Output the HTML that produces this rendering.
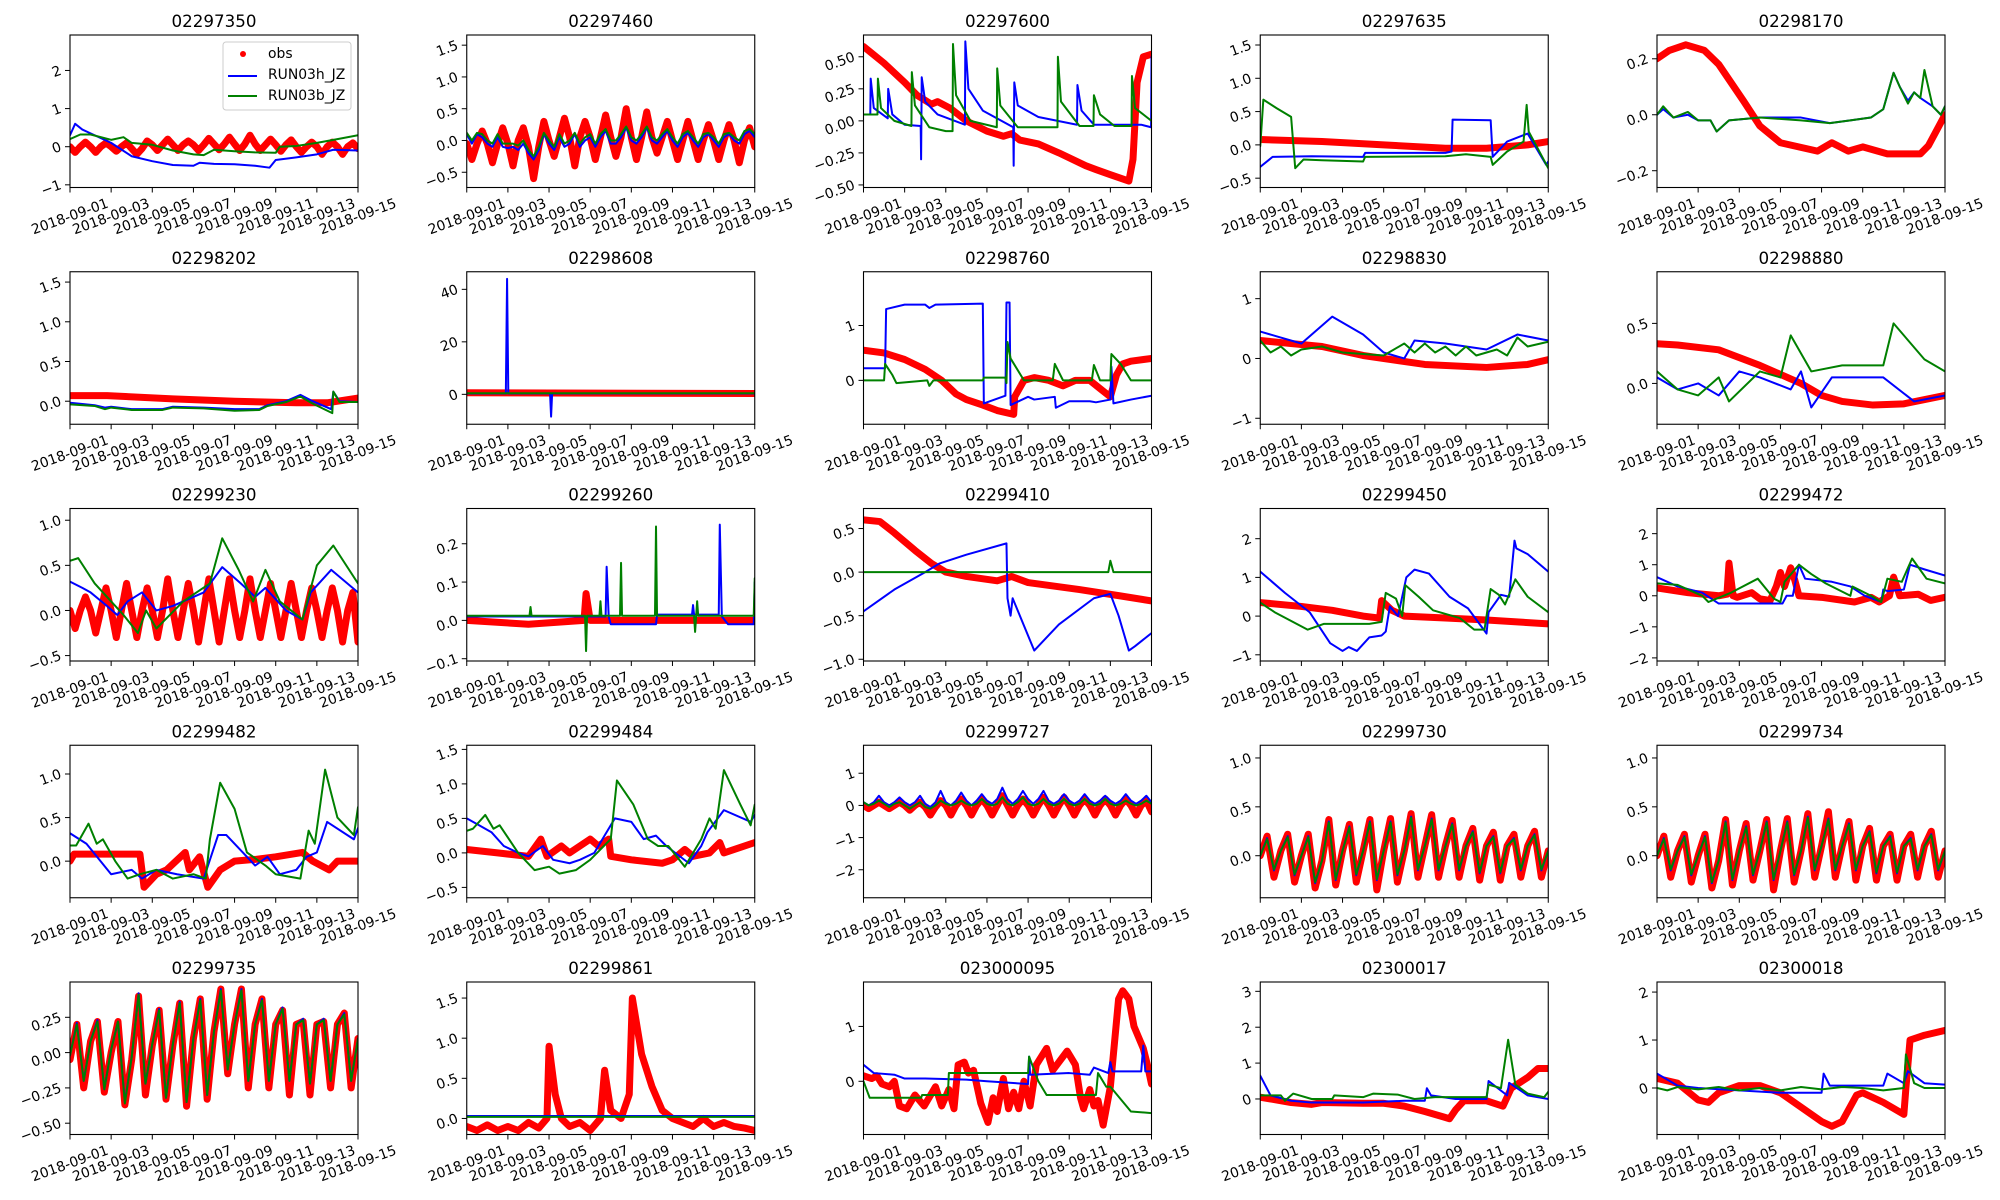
<!DOCTYPE html>
<html><head><meta charset="utf-8"><style>
html,body{margin:0;padding:0;background:#fff;}
svg{display:block;font-family:"DejaVu Sans","Liberation Sans",sans-serif;}
</style></head><body>
<svg id="fig" width="2000" height="1200" viewBox="0 0 2000 1200" xmlns="http://www.w3.org/2000/svg"></svg>
<script>
// ---- tick labels shared by all panels ----
const xTickLabels = ["2018-09-01","2018-09-03","2018-09-05","2018-09-07","2018-09-09","2018-09-11","2018-09-13","2018-09-15"];
const xTickDays = [0,2,4,6,8,10,12,14];

// ---- station ids ----
const stations = ["02297350","02297460","02297600","02297635","02298170","02298202","02298608","02298760","02298830","02298880","02299230","02299260","02299410","02299450","02299472","02299482","02299484","02299727","02299730","02299734","02299735","02299861","023000095","02300017","02300018"];

// ---- y limits and ticks ----
const yLims = [[-1.07,2.93],[-0.74,1.66],[-0.52,0.67],[-0.64,1.65],[-0.26,0.285],[-0.29,1.63],[-11.4,46.7],[-0.8,1.98],[-1.1,1.45],[-0.34,0.93],[-0.56,1.13],[-0.106,0.292],[-1.02,0.73],[-1.16,2.78],[-2.1,2.81],[-0.42,1.33],[-0.65,1.56],[-2.87,1.87],[-0.43,1.13],[-0.43,1.13],[-0.58,0.5],[-0.2,1.7],[-0.97,1.81],[-0.99,3.26],[-0.97,2.21]];
const yTicks = [[-1,0,1,2],[-0.5,0,0.5,1,1.5],[-0.5,-0.25,0,0.25,0.5],[-0.5,0,0.5,1,1.5],[-0.2,0,0.2],[0,0.5,1,1.5],[0,20,40],[0,1],[-1,0,1],[0,0.5],[-0.5,0,0.5,1],[-0.1,0,0.1,0.2],[-1,-0.5,0,0.5],[-1,0,1,2],[-2,-1,0,1,2],[0,0.5,1],[-0.5,0,0.5,1,1.5],[-2,-1,0,1],[0,0.5,1],[0,0.5,1],[-0.5,-0.25,0,0.25],[0,0.5,1,1.5],[0,1],[0,1,2,3],[0,1,2]];
const yTickLabels = [["−1","0","1","2"],["−0.5","0.0","0.5","1.0","1.5"],["−0.50","−0.25","0.00","0.25","0.50"],["−0.5","0.0","0.5","1.0","1.5"],["−0.2","0.0","0.2"],["0.0","0.5","1.0","1.5"],["0","20","40"],["0","1"],["−1","0","1"],["0.0","0.5"],["−0.5","0.0","0.5","1.0"],["−0.1","0.0","0.1","0.2"],["−1.0","−0.5","0.0","0.5"],["−1","0","1","2"],["−2","−1","0","1","2"],["0.0","0.5","1.0"],["−0.5","0.0","0.5","1.0","1.5"],["−2","−1","0","1"],["0.0","0.5","1.0"],["0.0","0.5","1.0"],["−0.50","−0.25","0.00","0.25"],["0.0","0.5","1.0","1.5"],["0","1"],["0","1","2","3"],["0","1","2"]];

// ---- series: plain arrays are evenly spaced over 14 days; [day,value] pairs otherwise ----
const obs0 = [0,-0.15,0,0.12,0,-0.15,0,0.1,0,-0.12,0,0.1,-0.05,-0.2,-0.05,0.15,0.05,-0.1,0.05,0.2,0.05,-0.1,0.05,0.15,0.05,-0.1,0.05,0.22,0.07,-0.08,0.07,0.25,0.07,-0.1,0.07,0.3,0.07,-0.1,0.05,0.2,0.05,-0.12,0.05,0.18,0,-0.15,0,0.12,0,-0.2,0,0.12,0,-0.2,0,0.1,-0.05];
const blue0 = [[0,0.3],[0.25,0.6],[0.6,0.45],[1,0.35],[2,0.1],[3,-0.25],[4,-0.38],[5,-0.48],[6,-0.5],[6.3,-0.42],[7,-0.45],[8,-0.46],[9,-0.5],[9.7,-0.55],[10,-0.35],[11,-0.28],[12,-0.2],[12.8,-0.08],[14,-0.1]];
const green0 = [[0,0.2],[0.5,0.32],[1,0.32],[2,0.18],[2.6,0.25],[3,0.1],[4,0.05],[5,-0.1],[6,-0.2],[6.5,-0.22],[7,-0.08],[8,-0.12],[9,-0.15],[10,-0.16],[10.2,0.0],[11,0.02],[12,0.1],[13,0.2],[14,0.3]];

const obs1 = [-0.05,-0.3,-0.05,0.15,-0.05,-0.35,-0.05,0.2,-0.05,-0.4,0,0.2,-0.1,-0.6,-0.1,0.3,0,-0.25,0.05,0.35,0.05,-0.4,0.05,0.3,0.05,-0.3,0.05,0.4,0.05,-0.25,0.05,0.5,0.05,-0.3,0.05,0.45,0.05,-0.2,0.05,0.3,0,-0.3,0,0.3,0,-0.3,0,0.25,0,-0.3,0,0.25,0,-0.35,0,0.2,-0.1];
const blue1 = [0.1,-0.05,0.1,0.05,-0.05,-0.1,0.05,-0.1,-0.12,-0.1,-0.15,-0.05,-0.2,-0.3,-0.15,0.1,-0.05,-0.15,0.05,-0.1,-0.05,0.1,-0.1,0.0,0.05,-0.1,0.05,0.15,-0.05,-0.05,0.05,0.2,0.0,-0.05,0.05,0.2,0.0,-0.05,0.05,0.15,0.0,-0.1,0.05,0.12,0.0,-0.1,0.05,0.1,0.0,-0.1,0.05,0.1,0.0,-0.05,0.1,0.15,0.05];
const green1 = [0.12,0.0,0.12,0.1,0.0,-0.05,0.1,-0.05,-0.05,-0.05,-0.08,0.0,-0.15,-0.25,-0.1,0.12,0.0,-0.1,0.1,-0.05,0.0,0.12,-0.05,0.05,0.1,-0.05,0.1,0.18,0.0,0.0,0.1,0.22,0.05,0.0,0.1,0.22,0.05,0.0,0.1,0.18,0.05,-0.05,0.1,0.15,0.05,-0.05,0.1,0.12,0.05,-0.05,0.1,0.12,0.05,0.0,0.15,0.18,0.1];

const obs2 = [[0,0.58],[1,0.45],[2,0.3],[2.6,0.2],[3.3,0.13],[3.6,0.15],[4.2,0.1],[5,0.0],[6,-0.08],[6.8,-0.12],[7.2,-0.1],[7.6,-0.15],[8.5,-0.18],[9.5,-0.25],[10.8,-0.35],[11.3,-0.38],[12,-0.42],[12.9,-0.47],[13.1,-0.3],[13.3,0.3],[13.6,0.5],[14,0.52]];
const blue2 = [[0,0.05],[0.33,0.05],[0.35,0.33],[0.5,0.1],[1.18,0.02],[1.2,0.25],[1.4,0.05],[2,-0.03],[2.78,-0.04],[2.8,-0.3],[2.83,0.34],[3.0,0.15],[3.6,0.05],[4.93,-0.03],[4.95,0.62],[5.1,0.25],[5.8,0.08],[7.28,-0.05],[7.3,-0.35],[7.33,0.3],[7.5,0.12],[8.5,0.03],[10.38,-0.03],[10.4,0.28],[10.6,0.08],[11.2,-0.03],[13.5,-0.03],[13.98,-0.05],[14,0.5]];
const green2 = [[0,0.05],[0.68,0.05],[0.7,0.33],[0.85,0.1],[1.5,0.0],[2.33,-0.04],[2.35,0.38],[2.5,0.12],[3.2,-0.05],[4,-0.08],[4.33,-0.08],[4.35,0.6],[4.5,0.2],[5.2,0.0],[6.48,-0.05],[6.5,0.41],[6.65,0.12],[7.5,-0.05],[9.43,-0.05],[9.45,0.5],[9.6,0.15],[10.5,-0.04],[11.18,-0.04],[11.2,0.2],[11.5,0.05],[12.2,-0.04],[13.03,-0.04],[13.05,0.35],[13.2,0.1],[14,0.0]];

const obs3 = [[0,0.08],[3,0.05],[6,0.0],[9,-0.05],[11,-0.05],[13,0.0],[14,0.05]];
const blue3 = [[0,-0.33],[0.6,-0.18],[2.5,-0.17],[5,-0.18],[5.1,-0.12],[9,-0.12],[9.3,-0.1],[9.35,0.38],[11.2,0.37],[11.3,-0.18],[12,0.05],[13.0,0.17],[13.9,-0.3],[14,-0.25]];
const green3 = [[0,-0.02],[0.15,0.68],[0.8,0.55],[1.5,0.42],[1.7,-0.35],[2.1,-0.22],[3,-0.23],[5,-0.25],[5.1,-0.18],[9,-0.17],[10,-0.14],[11.2,-0.18],[11.3,-0.3],[12,-0.1],[12.8,0.05],[12.95,0.6],[13.05,0.2],[14,-0.35]];

const obs4 = [[0,0.2],[0.6,0.23],[1.4,0.25],[2.3,0.23],[3,0.18],[4.2,0.05],[5,-0.04],[6,-0.1],[7.8,-0.13],[8.5,-0.1],[9.3,-0.13],[10,-0.115],[11.2,-0.14],[12.8,-0.14],[13.2,-0.11],[14,0.0]];
const blue4 = [[0,0.0],[0.3,0.02],[0.8,-0.01],[1.5,0.0],[2.0,-0.02],[2.6,-0.02],[2.9,-0.06],[3.5,-0.02],[5,-0.01],[7,-0.01],[8.4,-0.03],[9.4,-0.02],[10.4,-0.01],[11.0,0.02],[11.5,0.15],[11.8,0.1],[12.2,0.05],[12.5,0.08],[12.8,0.06],[13.4,0.03],[13.8,0.0],[14,0.03]];
const green4 = [[0,0.0],[0.3,0.03],[0.8,-0.01],[1.5,0.01],[2.0,-0.02],[2.6,-0.02],[2.9,-0.06],[3.5,-0.02],[5,-0.01],[7,-0.02],[8.4,-0.03],[9.4,-0.02],[10.4,-0.01],[11.0,0.02],[11.5,0.15],[11.8,0.1],[12.2,0.04],[12.5,0.08],[12.8,0.06],[13.0,0.16],[13.4,0.03],[13.8,0.0],[14,0.03]];

const obs5 = [[0,0.07],[1.8,0.07],[5,0.03],[8,0.0],[11,-0.02],[12.5,-0.02],[14,0.04]];
const blue5 = [[0,-0.02],[1.2,-0.05],[1.7,-0.08],[2,-0.07],[3,-0.1],[4.5,-0.1],[5,-0.07],[6.5,-0.08],[8,-0.1],[9.2,-0.1],[9.6,-0.05],[10.5,0.0],[11.2,0.08],[11.8,0.0],[12.7,-0.1],[12.8,0.12],[13.1,0.0],[14,-0.01]];
const green5 = [[0,-0.04],[1.2,-0.06],[1.7,-0.1],[2,-0.08],[3,-0.11],[4.5,-0.11],[5,-0.08],[6.5,-0.09],[8,-0.12],[9.2,-0.11],[9.6,-0.06],[10.5,-0.01],[11.2,0.06],[11.8,-0.03],[12.75,-0.15],[12.8,0.12],[13.1,-0.01],[14,-0.01]];

const obs6 = [[0,0.6],[14,0.3]];
const blue6 = [[0,0.3],[1.9,0.3],[1.96,44],[2.02,0.3],[4.05,0.3],[4.1,-8.5],[4.15,0.3],[14,0.3]];
const green6 = [[0,0.4],[14,0.4]];

const obs7 = [[0,0.55],[1,0.5],[2,0.38],[3,0.2],[3.8,0.0],[4.5,-0.25],[5,-0.35],[5.8,-0.45],[6.5,-0.55],[7.3,-0.62],[7.35,-0.3],[7.8,0.0],[8.3,0.05],[9,0.0],[9.7,-0.1],[10.3,0.0],[11,0.0],[11.5,-0.15],[12,-0.3],[12.3,0.1],[12.6,0.3],[13,0.35],[14,0.4]];
const blue7 = [[0,0.22],[1.05,0.22],[1.1,1.3],[2,1.38],[3,1.38],[3.2,1.32],[3.5,1.38],[5.8,1.4],[5.85,-0.42],[6.9,-0.28],[6.95,1.42],[7.1,1.42],[7.15,-0.45],[8,-0.3],[8.3,-0.35],[9.3,-0.3],[9.35,-0.5],[10,-0.38],[11,-0.38],[11.3,-0.4],[12,-0.35],[12.05,0.25],[12.15,-0.42],[13,-0.35],[14,-0.28]];
const green7 = [[0,0.0],[1.0,0.0],[1.05,0.3],[1.4,0.1],[1.6,-0.05],[3.1,0.0],[3.2,-0.1],[3.4,0.0],[5.8,0.0],[5.85,0.05],[6.9,0.05],[6.95,-0.05],[7.0,0.7],[7.15,0.4],[7.8,0.0],[9.2,0.0],[9.3,0.3],[9.7,0.0],[11.1,0.0],[11.2,0.28],[11.5,0.0],[12.0,0.0],[12.05,0.48],[12.5,0.3],[13,0.0],[14,0.0]];

const obs8 = [[0,0.3],[3,0.2],[5,0.05],[8,-0.1],[11,-0.15],[13,-0.1],[14,-0.02]];
const blue8 = [[0,0.45],[1,0.35],[2,0.25],[3.5,0.7],[5,0.4],[6,0.1],[7,0.0],[7.5,0.3],[9,0.25],[10,0.2],[11,0.15],[12.5,0.4],[14,0.3]];
const green8 = [[0,0.3],[0.5,0.1],[1,0.2],[1.5,0.05],[2,0.15],[3,0.2],[4,0.1],[6,0.05],[7,0.25],[7.5,0.1],[8,0.25],[8.5,0.1],[9,0.2],[9.5,0.05],[10,0.2],[10.5,0.05],[11.5,0.15],[12,0.05],[12.5,0.35],[13,0.2],[14,0.28]];

const obs9 = [[0,0.33],[1,0.32],[3,0.28],[5,0.15],[7,0.0],[8,-0.1],[9,-0.15],[10.5,-0.18],[12,-0.17],[14,-0.1]];
const blue9 = [[0,0.05],[1,-0.05],[2,0.0],[3,-0.1],[4,0.1],[5,0.05],[6.5,-0.05],[7,0.1],[7.5,-0.2],[8.5,0.05],[11,0.05],[12.5,-0.15],[14,-0.1]];
const green9 = [[0,0.1],[1,-0.05],[2,-0.1],[3,0.05],[3.5,-0.15],[5,0.1],[6,0.05],[6.5,0.4],[7.5,0.1],[9,0.15],[11,0.15],[11.5,0.5],[13,0.2],[14,0.1]];

const obs10 = [0,-0.2,0,0.15,0,-0.25,0,0.25,0,-0.3,0,0.3,0,-0.3,0,0.25,0,-0.3,0,0.35,0,-0.3,0,0.3,0,-0.35,0,0.35,0,-0.35,0,0.35,0,-0.3,0,0.35,0,-0.3,0,0.3,0,-0.3,0,0.3,0,-0.3,0,0.25,0,-0.3,0,0.25,0,-0.35,0,0.2,-0.35];
const blue10 = [[0,0.32],[0.6,0.25],[1.0,0.2],[1.8,0.05],[2.3,-0.05],[2.8,0.1],[3.5,0.2],[4.2,0.0],[5.0,0.05],[6.5,0.2],[7.4,0.48],[8.3,0.3],[9,0.15],[9.5,0.25],[10.5,0.0],[11.3,-0.1],[11.7,0.2],[12.7,0.45],[14,0.2]];
const green10 = [[0,0.55],[0.4,0.58],[1.2,0.3],[1.8,0.15],[2.6,-0.05],[3.3,-0.25],[3.7,0.0],[4.2,-0.2],[5.5,0.1],[6.8,0.3],[7.4,0.8],[8.2,0.45],[8.9,0.1],[9.5,0.45],[10.2,0.1],[11.3,-0.1],[12.0,0.5],[12.8,0.72],[14,0.3]];

const obs11 = [[0,0.0],[3,-0.01],[5.7,0.0],[5.8,0.07],[6.0,0.0],[14,0.0]];
const blue11 = [[0,0.01],[6.75,0.01],[6.8,0.14],[6.9,0.01],[7.0,-0.01],[9.2,-0.01],[9.25,0.015],[10.95,0.015],[11.0,0.04],[11.05,0.015],[12.25,0.015],[12.3,0.25],[12.4,0.01],[12.7,-0.01],[13.95,-0.01],[14,0.1]];
const green11 = [[0,0.012],[3.05,0.012],[3.1,0.035],[3.15,0.012],[5.75,0.012],[5.8,-0.08],[5.85,0.012],[6.45,0.012],[6.5,0.05],[6.55,0.012],[7.45,0.012],[7.5,0.15],[7.55,0.012],[9.15,0.012],[9.2,0.245],[9.25,0.012],[11.05,0.012],[11.1,-0.03],[11.2,0.05],[11.25,0.012],[13.95,0.012],[14,0.11]];

const obs12 = [[0,0.6],[0.8,0.58],[1.5,0.45],[2.5,0.25],[3.3,0.1],[4,0.0],[5,-0.05],[6.5,-0.1],[7.2,-0.05],[8,-0.12],[10.5,-0.2],[12.4,-0.27],[14,-0.33]];
const blue12 = [[0,-0.45],[1.5,-0.2],[3.0,0.0],[3.7,0.1],[5.0,0.2],[6.95,0.33],[7.0,-0.3],[7.15,-0.5],[7.25,-0.3],[8.3,-0.9],[9.5,-0.6],[11.2,-0.3],[12.0,-0.25],[12.4,-0.5],[12.9,-0.9],[13.2,-0.85],[14,-0.7]];
const green12 = [[0,0.0],[11.9,0.0],[12.0,0.13],[12.15,0.0],[14,0.0]];

const obs13 = [[0,0.35],[2,0.25],[3.5,0.15],[5,0.0],[5.8,-0.05],[5.9,0.4],[6.4,0.15],[7,0.0],[9,-0.05],[11,-0.1],[14,-0.2]];
const blue13 = [[0,1.15],[1.2,0.6],[2.4,0.1],[2.9,-0.3],[3.4,-0.7],[4.0,-0.9],[4.3,-0.8],[4.7,-0.9],[5.3,-0.55],[5.9,-0.5],[6.1,-0.4],[6.3,0.25],[6.7,0.0],[7.1,1.0],[7.5,1.2],[8.2,1.1],[9.2,0.5],[10.1,0.2],[11.0,-0.45],[11.1,0.1],[11.7,0.55],[12.1,0.5],[12.36,1.95],[12.45,1.75],[13.0,1.6],[14,1.15]];
const green13 = [[0,0.35],[0.7,0.1],[2.3,-0.35],[3.1,-0.2],[5.3,-0.2],[5.9,-0.15],[6.1,0.6],[6.6,0.45],[6.9,0.0],[7.05,0.8],[7.7,0.5],[8.4,0.15],[9.7,-0.05],[10.4,-0.35],[10.9,-0.35],[11.2,0.7],[11.6,0.55],[11.9,0.3],[12.4,0.95],[13.0,0.5],[14,0.1]];

const obs14 = [[0,0.25],[1.5,0.1],[3,0.0],[3.4,0.05],[3.5,1.05],[3.7,0.0],[3.9,-0.05],[4.6,0.1],[5,-0.1],[5.5,-0.15],[5.8,0.3],[6.0,0.75],[6.2,0.3],[6.5,0.9],[6.7,0.5],[6.9,0.0],[8,-0.05],[9.6,-0.2],[10.4,-0.05],[10.8,-0.2],[11.3,0.0],[11.5,0.6],[11.8,0.0],[12.7,0.05],[13.3,-0.15],[14,-0.05]];
const blue14 = [[0,0.6],[1,0.3],[2.2,0.1],[3,-0.25],[6.1,-0.25],[6.3,0.0],[6.6,0.0],[6.9,1.0],[7.2,0.55],[8.5,0.45],[9.4,0.3],[10.1,0.0],[10.9,-0.2],[11.0,0.2],[11.2,0.15],[12.0,0.2],[12.3,1.0],[13,0.85],[14,0.65]];
const green14 = [[0,0.4],[1,0.35],[2.2,0.0],[2.5,-0.2],[3.6,0.1],[4.9,0.55],[5.7,-0.1],[6.0,-0.2],[6.2,0.45],[6.9,1.0],[7.5,0.7],[8.2,0.4],[9.4,0.0],[9.5,0.3],[10.4,0.0],[10.9,-0.2],[11.2,0.55],[11.9,0.45],[12.4,1.2],[13.1,0.55],[14,0.4]];

const obs15 = [[0,0.0],[0.2,0.08],[3.4,0.08],[3.6,-0.3],[4.2,-0.15],[4.7,-0.1],[5.6,0.1],[5.8,-0.1],[6.3,0.05],[6.7,-0.3],[7.3,-0.1],[8,0.0],[9,0.02],[10,0.05],[11.3,0.1],[11.8,0.0],[12.6,-0.1],[13,0.0],[14,0.0]];
const blue15 = [[0,0.32],[0.8,0.2],[2.0,-0.15],[3.0,-0.1],[3.5,-0.2],[4.2,-0.1],[5.2,-0.15],[6.5,-0.2],[7.2,0.3],[7.6,0.3],[8.4,0.1],[9.0,-0.05],[9.6,0.05],[10.2,-0.15],[11.0,-0.1],[11.5,0.05],[12.0,0.1],[12.5,0.45],[13.8,0.25],[14,0.38]];
const green15 = [[0,0.18],[0.3,0.18],[0.9,0.43],[1.3,0.2],[1.6,0.25],[2.2,0.0],[2.8,-0.2],[3.4,-0.15],[4.2,-0.1],[5.0,-0.2],[6.0,-0.15],[6.6,-0.2],[6.8,0.25],[7.3,0.9],[8.0,0.6],[8.6,0.1],[9.5,-0.05],[10.0,-0.15],[11.2,-0.2],[11.6,0.35],[11.9,0.2],[12.4,1.05],[13.0,0.5],[13.8,0.3],[14,0.62]];

const obs16 = [[0,0.05],[1.5,0.0],[3,-0.05],[3.6,0.2],[3.9,-0.05],[4.6,0.1],[5,0.0],[6.0,0.2],[6.4,0.1],[6.9,0.2],[7.0,-0.05],[8.0,-0.1],[9.5,-0.15],[10,-0.1],[10.6,0.05],[11,-0.05],[11.8,0.0],[12.3,0.15],[12.5,0.0],[14,0.15]];
const blue16 = [[0,0.5],[0.6,0.4],[1.2,0.3],[1.8,0.1],[2.5,0.0],[3.0,-0.05],[3.7,0.1],[4.2,-0.1],[5.0,-0.15],[5.5,-0.1],[6.2,0.0],[6.5,0.15],[7.2,0.5],[8.0,0.45],[8.6,0.2],[9.2,0.25],[9.7,0.1],[10.8,-0.15],[11.4,0.1],[11.7,0.3],[12.5,0.62],[13.8,0.45],[14,0.55]];
const green16 = [[0,0.32],[0.3,0.35],[0.9,0.55],[1.3,0.35],[1.6,0.4],[2.5,0.0],[3.3,-0.25],[4.0,-0.2],[4.5,-0.3],[5.3,-0.25],[6.0,-0.1],[7.0,0.2],[7.3,1.05],[8.1,0.7],[8.8,0.2],[9.3,0.1],[9.8,0.1],[10.6,-0.2],[11.4,0.2],[11.8,0.5],[12.1,0.35],[12.5,1.2],[13.3,0.7],[13.8,0.4],[14,0.7]];

const obs17 = [0,-0.1,0,0.1,0,-0.1,0,0.1,0,-0.15,0,0.1,-0.05,-0.3,-0.05,0.15,0,-0.3,0,0.2,0,-0.3,0,0.2,0,-0.3,0,0.3,0,-0.3,0,0.2,0,-0.3,0,0.25,0,-0.3,0,0.25,0,-0.3,0,0.2,0,-0.3,0,0.2,0,-0.3,0,0.2,0,-0.3,0,0.15,-0.2];
const blue17 = [0.1,0.0,0.1,0.3,0.1,0.0,0.1,0.25,0.1,0.0,0.1,0.3,0.05,-0.05,0.1,0.45,0.1,0.0,0.15,0.4,0.15,0.0,0.15,0.35,0.15,0.05,0.2,0.55,0.2,0.05,0.2,0.45,0.2,0.05,0.2,0.45,0.15,0.05,0.15,0.35,0.15,0.05,0.15,0.35,0.15,0.05,0.15,0.3,0.15,0.05,0.15,0.35,0.15,0.05,0.15,0.3,0.1];
const green17 = [0.1,0.0,0.05,0.15,0.05,-0.05,0.05,0.1,0.0,-0.1,0.0,0.1,-0.05,-0.1,0.0,0.15,0.05,0.0,0.05,0.15,0.05,0.0,0.05,0.2,0.05,0.0,0.05,0.25,0.05,0.0,0.1,0.25,0.05,0.0,0.05,0.2,0.05,0.0,0.05,0.2,0.05,0.0,0.05,0.2,0.05,0.0,0.05,0.2,0.05,0.0,0.05,0.15,0.05,0.0,0.05,0.15,0.05];

const obs18 = [0.0,0.2,-0.22,0.05,0.22,-0.27,0.0,0.22,-0.33,-0.05,0.37,-0.3,0.05,0.32,-0.27,0.05,0.37,-0.35,0.05,0.38,-0.27,0.05,0.43,-0.22,0.1,0.42,-0.22,0.1,0.36,-0.22,0.1,0.28,-0.25,0.1,0.24,-0.25,0.1,0.22,-0.22,0.1,0.25,-0.22,0.05];
const blue18 = [0.0,0.18,-0.15,0.05,0.2,-0.2,0.0,0.2,-0.28,-0.05,0.35,-0.25,0.05,0.3,-0.2,0.05,0.35,-0.25,0.05,0.35,-0.2,0.05,0.4,-0.15,0.1,0.38,-0.15,0.1,0.33,-0.15,0.1,0.25,-0.18,0.1,0.2,-0.18,0.1,0.18,-0.15,0.1,0.22,-0.15,0.05];
const green18 = [0.0,0.17,-0.14,0.05,0.19,-0.19,0.0,0.19,-0.27,-0.05,0.34,-0.24,0.05,0.29,-0.19,0.05,0.34,-0.24,0.05,0.34,-0.19,0.05,0.39,-0.14,0.1,0.37,-0.14,0.1,0.32,-0.14,0.1,0.24,-0.17,0.1,0.19,-0.17,0.1,0.17,-0.14,0.1,0.21,-0.14,0.05];

const obs19 = [0.0,0.2,-0.22,0.05,0.22,-0.27,0.0,0.22,-0.33,-0.05,0.37,-0.3,0.05,0.33,-0.25,0.05,0.37,-0.35,0.05,0.38,-0.27,0.05,0.43,-0.22,0.1,0.45,-0.22,0.1,0.35,-0.25,0.1,0.28,-0.25,0.1,0.22,-0.25,0.1,0.22,-0.22,0.1,0.25,-0.22,0.05];
const blue19 = [0.0,0.18,-0.15,0.05,0.2,-0.2,0.0,0.2,-0.28,-0.05,0.35,-0.25,0.05,0.3,-0.2,0.05,0.35,-0.25,0.05,0.35,-0.2,0.05,0.4,-0.15,0.1,0.38,-0.15,0.1,0.33,-0.15,0.1,0.25,-0.18,0.1,0.2,-0.18,0.1,0.18,-0.15,0.1,0.22,-0.15,0.05];
const green19 = [0.0,0.17,-0.14,0.05,0.19,-0.19,0.0,0.19,-0.27,-0.05,0.34,-0.24,0.05,0.29,-0.19,0.05,0.34,-0.24,0.05,0.34,-0.19,0.05,0.39,-0.14,0.1,0.37,-0.14,0.1,0.32,-0.14,0.1,0.24,-0.17,0.1,0.19,-0.17,0.1,0.17,-0.14,0.1,0.21,-0.14,0.05];

const obs20 = [-0.05,0.2,-0.25,0.08,0.22,-0.28,0.0,0.22,-0.37,-0.05,0.4,-0.3,0.05,0.3,-0.33,0.05,0.35,-0.38,0.1,0.38,-0.33,0.15,0.45,-0.15,0.2,0.45,-0.25,0.2,0.38,-0.25,0.2,0.3,-0.3,0.2,0.22,-0.3,0.2,0.22,-0.25,0.2,0.28,-0.25,0.1];
const blue20 = [-0.02,0.21,-0.2,0.08,0.23,-0.26,0.02,0.22,-0.35,-0.03,0.42,-0.22,0.06,0.31,-0.32,0.06,0.36,-0.35,0.1,0.38,-0.3,0.15,0.45,-0.12,0.2,0.45,-0.2,0.2,0.38,-0.2,0.2,0.32,-0.2,0.2,0.24,-0.22,0.2,0.24,-0.2,0.2,0.28,-0.2,0.1];
const green20 = [-0.02,0.2,-0.2,0.08,0.22,-0.26,0.02,0.22,-0.36,-0.03,0.41,-0.22,0.06,0.3,-0.32,0.06,0.35,-0.35,0.1,0.37,-0.3,0.15,0.44,-0.12,0.2,0.44,-0.2,0.2,0.37,-0.2,0.2,0.31,-0.2,0.2,0.23,-0.22,0.2,0.23,-0.2,0.2,0.27,-0.2,0.1];

const obs21 = [[0,-0.1],[0.5,-0.15],[1,-0.08],[1.5,-0.15],[2,-0.1],[2.5,-0.15],[3,-0.05],[3.5,-0.12],[3.9,0.0],[4.0,0.9],[4.3,0.3],[4.6,0.0],[5,-0.1],[5.5,-0.05],[6,-0.15],[6.5,0.0],[6.7,0.6],[7,0.1],[7.5,0.0],[7.9,0.3],[8.05,1.5],[8.5,0.8],[9,0.4],[9.5,0.1],[10,0.0],[10.5,-0.05],[11,-0.1],[11.5,0.0],[12,-0.1],[12.5,-0.05],[13,-0.1],[13.5,-0.12],[14,-0.15]];
const blue21 = [[0,0.03],[14,0.03]];
const green21 = [[0,0.02],[14,0.02]];

const obs22 = [[0,0.1],[0.4,0.05],[0.65,0.1],[0.9,-0.05],[1.26,-0.1],[1.5,0.0],[1.75,-0.45],[2.1,-0.5],[2.5,-0.25],[2.95,-0.45],[3.5,-0.1],[3.8,-0.45],[4.15,-0.15],[4.4,-0.5],[4.6,0.3],[4.9,0.35],[5.1,0.15],[5.35,0.2],[5.7,-0.4],[6.05,-0.75],[6.3,-0.3],[6.5,-0.55],[6.8,0.05],[7.05,-0.5],[7.3,-0.2],[7.55,-0.5],[7.8,0.0],[8.1,-0.45],[8.4,0.3],[8.9,0.6],[9.2,0.2],[9.9,0.55],[10.3,0.3],[10.55,-0.3],[10.7,-0.5],[11.0,-0.15],[11.2,-0.45],[11.4,-0.35],[11.65,-0.8],[12.0,-0.1],[12.4,1.5],[12.6,1.65],[12.9,1.5],[13.15,1.0],[13.6,0.6],[13.8,0.3],[14,-0.05]];
const blue22 = [[0,0.3],[0.5,0.15],[1.5,0.12],[2.0,0.05],[3,0.05],[5,0.03],[6,0.0],[8.0,-0.05],[8.05,0.45],[8.1,0.12],[10,0.15],[11,0.12],[11.2,0.25],[11.9,0.15],[12.0,0.35],[12.1,0.18],[13.5,0.18],[13.6,0.65],[13.7,0.18],[14,0.18]];
const green22 = [[0,0.0],[0.3,-0.3],[2.8,-0.3],[2.85,-0.25],[4.1,-0.25],[4.15,0.15],[8.0,0.15],[8.05,0.45],[8.5,0.0],[8.9,-0.25],[11.3,-0.25],[11.4,0.15],[11.8,-0.1],[12.0,-0.1],[13.0,-0.55],[14,-0.58]];

const obs23 = [[0,0.05],[1.5,-0.1],[2.5,-0.15],[3,-0.1],[5,-0.12],[6,-0.12],[7,-0.2],[8,-0.35],[8.9,-0.5],[9.2,-0.55],[9.5,-0.3],[9.9,-0.05],[11,-0.05],[11.8,-0.2],[12.2,0.3],[13,0.6],[13.5,0.85],[14,0.85]];
const blue23 = [[0,0.65],[0.5,0.1],[1.5,-0.05],[2.5,-0.1],[5,-0.1],[7,-0.05],[8,-0.05],[8.1,0.3],[8.3,0.1],[9.5,0.0],[11,0.0],[11.1,0.5],[12,0.1],[12.1,0.45],[13,0.1],[14,0.0]];
const green23 = [[0,0.1],[1,0.1],[1.2,-0.05],[1.6,0.15],[2.5,0.0],[3.5,0.0],[3.6,0.1],[5,0.05],[5.5,0.15],[6.7,0.12],[7.5,0.0],[8.5,0.05],[11,0.05],[11.1,0.4],[11.7,0.3],[12.05,1.65],[12.4,0.4],[13,0.15],[13.8,0.05],[14,0.2]];

const obs24 = [[0,0.2],[1,0.1],[2,-0.25],[2.5,-0.3],[3,-0.1],[4,0.05],[5,0.05],[6,-0.1],[7,-0.4],[8,-0.7],[8.5,-0.8],[9,-0.7],[9.7,-0.15],[10,-0.1],[11,-0.3],[12,-0.55],[12.1,0.0],[12.3,1.0],[13,1.1],[14,1.2]];
const blue24 = [[0,0.3],[1,0.05],[2,0.0],[4,-0.05],[6,-0.1],[8,-0.1],[8.1,0.3],[8.4,0.05],[11,0.05],[11.2,0.3],[12,0.1],[12.2,0.35],[13,0.1],[14,0.07]];
const green24 = [[0,0.0],[0.5,-0.05],[1,0.02],[2,-0.03],[3,0.02],[4,-0.05],[5,0.0],[6,-0.05],[7,0.02],[8,-0.03],[9,0.02],[10,0.0],[11,-0.05],[12.0,0.0],[12.1,0.7],[12.5,0.1],[13,0.0],[14,0.0]];

const obsSeries = [obs0,obs1,obs2,obs3,obs4,obs5,obs6,obs7,obs8,obs9,obs10,obs11,obs12,obs13,obs14,obs15,obs16,obs17,obs18,obs19,obs20,obs21,obs22,obs23,obs24];
const blueSeries = [blue0,blue1,blue2,blue3,blue4,blue5,blue6,blue7,blue8,blue9,blue10,blue11,blue12,blue13,blue14,blue15,blue16,blue17,blue18,blue19,blue20,blue21,blue22,blue23,blue24];
const greenSeries = [green0,green1,green2,green3,green4,green5,green6,green7,green8,green9,green10,green11,green12,green13,green14,green15,green16,green17,green18,green19,green20,green21,green22,green23,green24];

// ---- layout ----
const NS = "http://www.w3.org/2000/svg";
const fig = document.getElementById("fig");
const AX_W = 288, AX_H = 152.5, X0 = 70, Y0 = 35, DX = 396.75, DY = 236.75;

function mk(tag, attrs, parent) {
  const e = document.createElementNS(NS, tag);
  for (const k in attrs) e.setAttribute(k, attrs[k]);
  (parent || fig).appendChild(e);
  return e;
}
function toPts(arr) {
  if (typeof arr[0] === "number") {
    const n = arr.length;
    return arr.map((v, i) => [i * 14 / (n - 1), v]);
  }
  return arr;
}

for (let p = 0; p < 25; p++) {
  const r = Math.floor(p / 5), c = p % 5;
  const L = X0 + c * DX, T = Y0 + r * DY, B = T + AX_H, R = L + AX_W;
  const [ylo, yhi] = yLims[p];
  const xs = d => L + d / 14 * AX_W;
  const ys = v => B - (v - ylo) / (yhi - ylo) * AX_H;

  const g = mk("g", {});
  
  

  const cp = mk("clipPath", {id: "clip" + p}, g);
  mk("rect", {x: L, y: T, width: AX_W, height: AX_H}, cp);

  const title = mk("text", {x: L + AX_W / 2, y: T - 8, "text-anchor": "middle", "font-size": "16.7"}, g);
  title.textContent = stations[p];
  
  

  const plot = mk("g", {"clip-path": "url(#clip" + p + ")"}, g);
  const series = [[obsSeries[p], "#ff0000", 7, "obs-series"], [blueSeries[p], "#0000ff", 2, "run03h-series"], [greenSeries[p], "#008000", 2, "run03b-series"]];
  for (const [arr, col, w, nm] of series) {
    const pts = toPts(arr).map(([d, v]) => xs(d).toFixed(2) + "," + ys(v).toFixed(2)).join(" ");
    const pl = mk("polyline", {points: pts, fill: "none", stroke: col, "stroke-width": w, "stroke-linejoin": "round", "stroke-linecap": "round"}, plot);
    
    
  }

  const frame = mk("rect", {x: L, y: T, width: AX_W, height: AX_H, fill: "none", stroke: "#000", "stroke-width": 1.1}, g);
  
  

  xTickDays.forEach((d, i) => {
    const x = xs(d);
    mk("line", {x1: x, y1: B, x2: x, y2: B + 5, stroke: "#000", "stroke-width": 1}, g);
    const t = mk("text", {transform: "translate(" + x + "," + (B + 29.5) + ") rotate(-20)", "text-anchor": "middle", "dominant-baseline": "central", "font-size": "13.9"}, g);
    t.textContent = xTickLabels[i];
    
    
  });
  yTicks[p].forEach((v, i) => {
    const y = ys(v);
    mk("line", {x1: L - 5, y1: y, x2: L, y2: y, stroke: "#000", "stroke-width": 1}, g);
    const t = mk("text", {transform: "translate(" + (L - 9) + "," + y + ") rotate(-20)", "text-anchor": "end", "dominant-baseline": "central", "font-size": "13.9"}, g);
    t.textContent = yTickLabels[p][i];
    
    
  });
}

// ---- legend in first panel ----
const lg = mk("g", {});


mk("rect", {x: 223, y: 42, width: 128, height: 68, rx: 3, fill: "#fff", "fill-opacity": 0.85, stroke: "#cccccc", "stroke-width": 1}, lg);
mk("circle", {cx: 243, cy: 54, r: 3, fill: "#ff0000"}, lg);
mk("line", {x1: 228, y1: 76, x2: 257, y2: 76, stroke: "#0000ff", "stroke-width": 2}, lg);
mk("line", {x1: 228, y1: 96, x2: 257, y2: 96, stroke: "#008000", "stroke-width": 2}, lg);
const legendLabels = ["obs", "RUN03h_JZ", "RUN03b_JZ"];
legendLabels.forEach((s, i) => {
  const t = mk("text", {x: 268, y: 54 + i * 21, "dominant-baseline": "central", "font-size": "13.9"}, lg);
  t.textContent = s;
  
  
});
</script>
</body></html>
